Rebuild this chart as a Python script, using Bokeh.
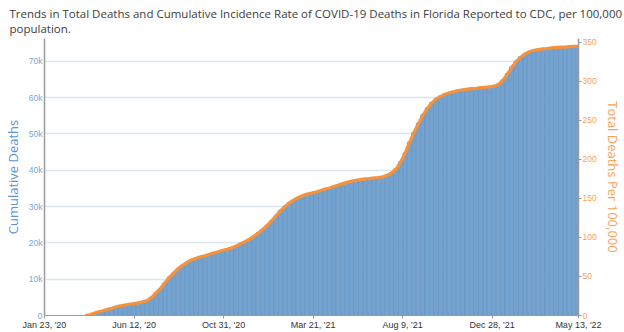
import pandas as pd
from bokeh.plotting import figure
from bokeh.models import Range1d, LinearAxis, FixedTicker, ColumnDataSource
from bokeh.embed import file_html
from bokeh.resources import INLINE

# ---- data ----
first_week = "2020-03-27"
cumulative_deaths_k = [
    0.0, 0.2, 0.6, 1.0, 1.3, 1.7, 2.0, 2.4, 2.7, 2.9, 3.1, 3.3, 3.5, 3.8, 4.1, 5.0,
    6.3, 7.5, 9.1, 10.6, 11.8, 13.0, 13.9, 14.7, 15.4, 15.8, 16.2, 16.5, 16.9, 17.3,
    17.6, 18.0, 18.3, 18.7, 19.2, 19.8, 20.4, 21.1, 21.9, 22.8, 23.8, 24.9, 26.2,
    27.6, 29.0, 30.1, 31.1, 31.9, 32.6, 33.1, 33.5, 33.8, 34.1, 34.5, 34.9, 35.2,
    35.6, 36.0, 36.4, 36.8, 37.1, 37.3, 37.5, 37.7, 37.8, 38.0, 38.1, 38.3, 38.7,
    39.4, 40.5, 42.4, 44.8, 47.8, 50.5, 53.0, 55.3, 57.2, 58.7, 59.8, 60.5, 61.1,
    61.5, 61.8, 62.1, 62.3, 62.5, 62.6, 62.7, 62.9, 63.0, 63.1, 63.3, 63.8, 64.9,
    66.6, 68.5, 70.1, 71.3, 72.2, 72.8, 73.2, 73.4, 73.6, 73.7, 73.9, 74.0, 74.1,
    74.1, 74.2, 74.3, 74.3,
]
florida_population = 21538187
tick_dates = ["2020-01-23", "2020-06-12", "2020-10-31", "2021-03-21",
              "2021-08-09", "2021-12-28", "2022-05-13"]
tick_labels = ["Jan 23, '20", "Jun 12, '20", "Oct 31, '20", "Mar 21, '21",
               "Aug 9, '21", "Dec 28, '21", "May 13, '22"]
left_ticks = [0, 10000, 20000, 30000, 40000, 50000, 60000, 70000]
left_tick_labels = ["0", "10k", "20k", "30k", "40k", "50k", "60k", "70k"]
right_ticks = [0, 50, 100, 150, 200, 250, 300, 350]

title_text = ("Trends in Total Deaths and Cumulative Incidence Rate of COVID-19 Deaths in "
              "Florida Reported to CDC, per 100,000\npopulation.")

# ---- derived ----
t0 = pd.Timestamp(tick_dates[0])
dates = pd.date_range(first_week, periods=len(cumulative_deaths_k), freq="7D")
days = [(d - t0).days for d in dates]
deaths = [v * 1000 for v in cumulative_deaths_k]
per100k = [v * 100000 / florida_population for v in deaths]
src = ColumnDataSource(dict(x=days, deaths=deaths, rate=per100k))
tick_days = [(pd.Timestamp(d) - t0).days for d in tick_dates]

BLUE_TXT = "#5b93cf"
ORANGE_TXT = "#f9a05a"
AXIS_GRAY = "#9a9a9a"

p = figure(width=624, height=332, output_backend="svg", toolbar_location=None,
           x_range=Range1d(tick_days[0], tick_days[-1]),
           y_range=Range1d(0, 76300),
           min_border_left=40, min_border_right=42, min_border_top=8,
           min_border_bottom=14)
p.extra_y_ranges = {"rate": Range1d(0, 355)}

p.vbar(x="x", top="deaths", width=7, source=src, fill_color="#74a3cf",
       line_color="#6592bf", line_width=0.6)
p.line(x="x", y="rate", source=src, y_range_name="rate", line_color="#f7913a",
       line_width=3.2)

# title
p.title.text = title_text
p.title.text_font = "Open Sans"
p.title.text_font_size = "11.5px"
p.title.text_font_style = "normal"
p.title.text_color = "#3c3c3c"
p.title.offset = -35
p.title.standoff = 6

# grid
p.xgrid.visible = False
p.ygrid.ticker = FixedTicker(ticks=left_ticks)
p.ygrid.grid_line_color = "#dce6f0"
p.ygrid.grid_line_width = 1.5
p.outline_line_color = None

# x axis
xa = p.xaxis[0]
xa.ticker = FixedTicker(ticks=tick_days)
xa.major_label_overrides = {d: l for d, l in zip(tick_days, tick_labels)}
xa.major_label_text_font = "Liberation Sans"
xa.major_label_text_font_size = "9px"
xa.major_label_text_color = "#333333"
xa.major_label_standoff = 1
xa.major_tick_out = 3
xa.major_tick_in = 0
xa.minor_tick_out = 0
xa.minor_tick_in = 0
xa.axis_line_color = AXIS_GRAY
xa.major_tick_line_color = AXIS_GRAY

# left axis
ya = p.yaxis[0]
ya.ticker = FixedTicker(ticks=left_ticks)
ya.major_label_overrides = {t: l for t, l in zip(left_ticks, left_tick_labels)}
ya.major_label_text_font = "Liberation Sans"
ya.major_label_text_font_size = "8.5px"
ya.major_label_text_color = "#7aa6d6"
ya.major_label_standoff = 2
ya.major_tick_out = 0
ya.major_tick_in = 0
ya.minor_tick_out = 0
ya.minor_tick_in = 0
ya.axis_line_color = AXIS_GRAY
ya.axis_line_width = 1.5
ya.axis_label = "Cumulative Deaths"
ya.axis_label_text_font = "Open Sans"
ya.axis_label_text_font_size = "13px"
ya.axis_label_text_font_style = "normal"
ya.axis_label_text_color = BLUE_TXT
ya.axis_label_standoff = 4

# right axis
ra = LinearAxis(y_range_name="rate", ticker=FixedTicker(ticks=right_ticks))
ra.major_label_text_font = "Liberation Sans"
ra.major_label_text_font_size = "8.5px"
ra.major_label_text_color = ORANGE_TXT
ra.major_label_standoff = 1
ra.major_tick_out = 3
ra.major_tick_in = 0
ra.minor_tick_out = 0
ra.minor_tick_in = 0
ra.axis_line_color = AXIS_GRAY
ra.axis_line_width = 1.5
ra.major_tick_line_color = AXIS_GRAY
ra.axis_label = "Total Deaths Per 100,000"
ra.axis_label_text_font = "Open Sans"
ra.axis_label_text_font_size = "13px"
ra.axis_label_text_font_style = "normal"
ra.axis_label_text_color = ORANGE_TXT
ra.axis_label_standoff = 4
p.add_layout(ra, "right")

open("out.html", "w").write(file_html(p, INLINE))
